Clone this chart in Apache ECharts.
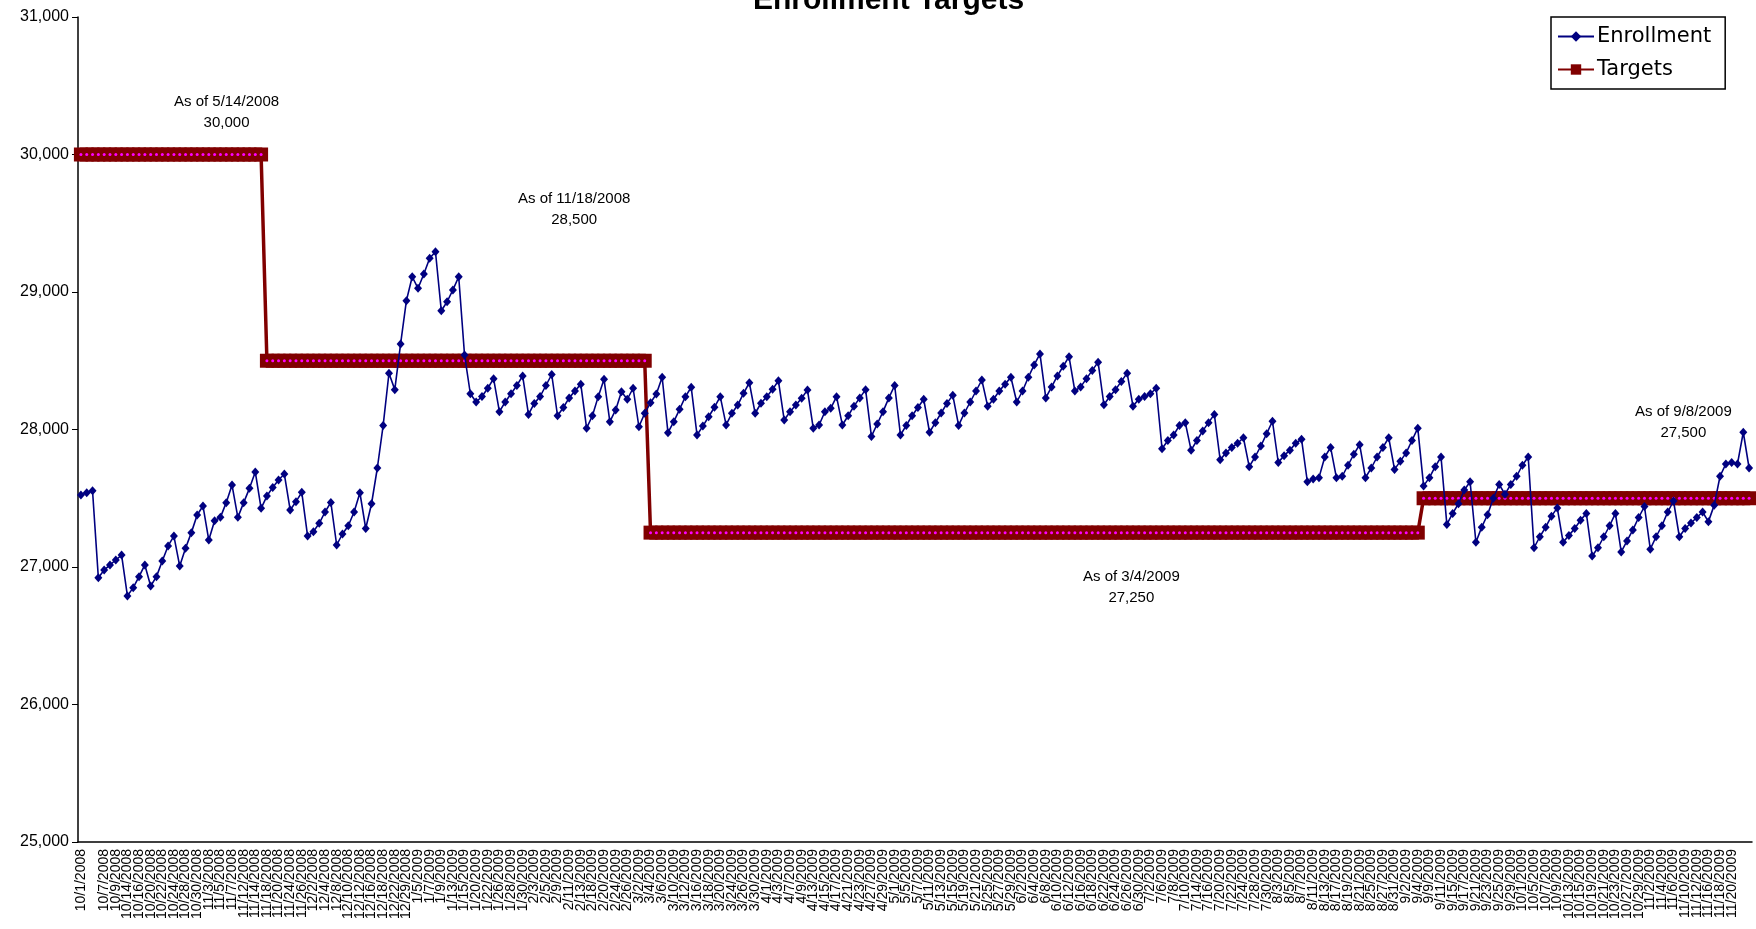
<!DOCTYPE html>
<html>
<head lang="en">
    <meta charset="UTF-8">
    <title>Enrollment Targets</title>
    <script type="text/javascript" src="https://cdn.jsdelivr.net/npm/echarts@6/dist/echarts.min.js"></script>
    <style>
        html, body { margin: 0; padding: 0; background: #fff; }
        #myLineChart { width: 1756px; height: 929px; }
    </style>
</head>
<body>
<div id="myLineChart"></div>
<script type="text/javascript">
    // business days shown on the category axis
    var dates = [
        '10/1/2008','10/2/2008','10/3/2008','10/6/2008','10/7/2008','10/8/2008','10/9/2008','10/10/2008','10/14/2008','10/15/2008',
        '10/16/2008','10/17/2008','10/20/2008','10/21/2008','10/22/2008','10/23/2008','10/24/2008','10/27/2008','10/28/2008','10/29/2008',
        '10/30/2008','10/31/2008','11/3/2008','11/4/2008','11/5/2008','11/6/2008','11/7/2008','11/10/2008','11/12/2008','11/13/2008',
        '11/14/2008','11/17/2008','11/18/2008','11/19/2008','11/20/2008','11/21/2008','11/24/2008','11/25/2008','11/26/2008','12/1/2008',
        '12/2/2008','12/3/2008','12/4/2008','12/5/2008','12/8/2008','12/9/2008','12/10/2008','12/11/2008','12/12/2008','12/15/2008',
        '12/16/2008','12/17/2008','12/18/2008','12/19/2008','12/22/2008','12/23/2008','12/29/2008','12/30/2008','1/5/2009','1/6/2009',
        '1/7/2009','1/8/2009','1/9/2009','1/12/2009','1/13/2009','1/14/2009','1/15/2009','1/16/2009','1/20/2009','1/21/2009',
        '1/22/2009','1/23/2009','1/26/2009','1/27/2009','1/28/2009','1/29/2009','1/30/2009','2/2/2009','2/3/2009','2/4/2009',
        '2/5/2009','2/6/2009','2/9/2009','2/10/2009','2/11/2009','2/12/2009','2/13/2009','2/17/2009','2/18/2009','2/19/2009',
        '2/20/2009','2/23/2009','2/24/2009','2/25/2009','2/26/2009','2/27/2009','3/2/2009','3/3/2009','3/4/2009','3/5/2009',
        '3/6/2009','3/9/2009','3/10/2009','3/11/2009','3/12/2009','3/13/2009','3/16/2009','3/17/2009','3/18/2009','3/19/2009',
        '3/20/2009','3/23/2009','3/24/2009','3/25/2009','3/26/2009','3/27/2009','3/30/2009','3/31/2009','4/1/2009','4/2/2009',
        '4/3/2009','4/6/2009','4/7/2009','4/8/2009','4/9/2009','4/10/2009','4/13/2009','4/14/2009','4/15/2009','4/16/2009',
        '4/17/2009','4/20/2009','4/21/2009','4/22/2009','4/23/2009','4/24/2009','4/27/2009','4/28/2009','4/29/2009','4/30/2009',
        '5/1/2009','5/4/2009','5/5/2009','5/6/2009','5/7/2009','5/8/2009','5/11/2009','5/12/2009','5/13/2009','5/14/2009',
        '5/15/2009','5/18/2009','5/19/2009','5/20/2009','5/21/2009','5/22/2009','5/25/2009','5/26/2009','5/27/2009','5/28/2009',
        '5/29/2009','6/1/2009','6/2/2009','6/3/2009','6/4/2009','6/5/2009','6/8/2009','6/9/2009','6/10/2009','6/11/2009',
        '6/12/2009','6/15/2009','6/16/2009','6/17/2009','6/18/2009','6/19/2009','6/22/2009','6/23/2009','6/24/2009','6/25/2009',
        '6/26/2009','6/29/2009','6/30/2009','7/1/2009','7/2/2009','7/3/2009','7/6/2009','7/7/2009','7/8/2009','7/9/2009',
        '7/10/2009','7/13/2009','7/14/2009','7/15/2009','7/16/2009','7/17/2009','7/20/2009','7/21/2009','7/22/2009','7/23/2009',
        '7/24/2009','7/27/2009','7/28/2009','7/29/2009','7/30/2009','7/31/2009','8/3/2009','8/4/2009','8/5/2009','8/6/2009',
        '8/7/2009','8/10/2009','8/11/2009','8/12/2009','8/13/2009','8/14/2009','8/17/2009','8/18/2009','8/19/2009','8/20/2009',
        '8/21/2009','8/24/2009','8/25/2009','8/26/2009','8/27/2009','8/28/2009','8/31/2009','9/1/2009','9/2/2009','9/3/2009',
        '9/4/2009','9/8/2009','9/9/2009','9/10/2009','9/11/2009','9/14/2009','9/15/2009','9/16/2009','9/17/2009','9/18/2009',
        '9/21/2009','9/22/2009','9/23/2009','9/24/2009','9/25/2009','9/28/2009','9/29/2009','9/30/2009','10/1/2009','10/2/2009',
        '10/5/2009','10/6/2009','10/7/2009','10/8/2009','10/9/2009','10/12/2009','10/13/2009','10/14/2009','10/15/2009','10/16/2009',
        '10/19/2009','10/20/2009','10/21/2009','10/22/2009','10/23/2009','10/26/2009','10/27/2009','10/28/2009','10/29/2009','10/30/2009',
        '11/2/2009','11/3/2009','11/4/2009','11/5/2009','11/6/2009','11/9/2009','11/10/2009','11/11/2009','11/12/2009','11/13/2009',
        '11/16/2009','11/17/2009','11/18/2009','11/19/2009','11/20/2009','11/23/2009','11/24/2009','11/25/2009'
    ];

    // daily enrollment
    var enrollment = [
        27524,27540,27555,26922,26978,27015,27051,27087,26790,26850,
        26930,27015,26862,26930,27044,27153,27225,27007,27136,27250,
        27378,27444,27196,27337,27361,27468,27596,27361,27468,27572,
        27691,27427,27516,27579,27633,27676,27415,27475,27543,27225,
        27257,27318,27400,27470,27160,27240,27300,27400,27540,27280,
        27460,27720,28030,28409,28290,28622,28937,29111,29027,29131,
        29245,29293,28864,28929,29015,29111,28542,28260,28200,28240,
        28300,28370,28130,28200,28260,28320,28390,28110,28190,28240,
        28320,28400,28100,28160,28230,28280,28330,28010,28100,28239,
        28365,28057,28142,28275,28220,28300,28020,28118,28195,28258,
        28380,27977,28057,28147,28239,28307,27960,28025,28093,28162,
        28239,28033,28118,28178,28263,28340,28118,28191,28239,28292,
        28355,28069,28129,28178,28227,28288,28009,28033,28129,28154,
        28239,28033,28100,28170,28230,28290,27950,28040,28130,28230,
        28320,27960,28030,28100,28160,28220,27980,28050,28120,28190,
        28250,28030,28120,28200,28280,28360,28170,28220,28280,28330,
        28380,28200,28280,28380,28470,28550,28230,28310,28390,28460,
        28530,28280,28310,28370,28430,28490,28180,28240,28290,28350,
        28410,28170,28220,28240,28260,28300,27860,27920,27960,28030,
        28050,27850,27920,27990,28050,28110,27780,27830,27870,27900,
        27940,27730,27800,27880,27970,28060,27760,27810,27850,27900,
        27930,27620,27640,27650,27800,27870,27650,27660,27740,27820,
        27890,27650,27720,27800,27870,27940,27710,27770,27830,27920,
        28010,27590,27650,27730,27800,27310,27390,27460,27560,27620,
        27180,27290,27380,27500,27600,27530,27600,27660,27740,27800,
        27140,27220,27290,27370,27430,27180,27230,27280,27340,27390,
        27080,27140,27220,27300,27390,27110,27190,27270,27360,27440,
        27130,27220,27300,27400,27480,27220,27280,27320,27360,27400,
        27330,27450,27660,27750,27760,27750,27980,27720
    ];

    // enrollment target in force on each day
    var targets = [
        30000,30000,30000,30000,30000,30000,30000,30000,30000,30000,
        30000,30000,30000,30000,30000,30000,30000,30000,30000,30000,
        30000,30000,30000,30000,30000,30000,30000,30000,30000,30000,
        30000,30000,28500,28500,28500,28500,28500,28500,28500,28500,
        28500,28500,28500,28500,28500,28500,28500,28500,28500,28500,
        28500,28500,28500,28500,28500,28500,28500,28500,28500,28500,
        28500,28500,28500,28500,28500,28500,28500,28500,28500,28500,
        28500,28500,28500,28500,28500,28500,28500,28500,28500,28500,
        28500,28500,28500,28500,28500,28500,28500,28500,28500,28500,
        28500,28500,28500,28500,28500,28500,28500,28500,27250,27250,
        27250,27250,27250,27250,27250,27250,27250,27250,27250,27250,
        27250,27250,27250,27250,27250,27250,27250,27250,27250,27250,
        27250,27250,27250,27250,27250,27250,27250,27250,27250,27250,
        27250,27250,27250,27250,27250,27250,27250,27250,27250,27250,
        27250,27250,27250,27250,27250,27250,27250,27250,27250,27250,
        27250,27250,27250,27250,27250,27250,27250,27250,27250,27250,
        27250,27250,27250,27250,27250,27250,27250,27250,27250,27250,
        27250,27250,27250,27250,27250,27250,27250,27250,27250,27250,
        27250,27250,27250,27250,27250,27250,27250,27250,27250,27250,
        27250,27250,27250,27250,27250,27250,27250,27250,27250,27250,
        27250,27250,27250,27250,27250,27250,27250,27250,27250,27250,
        27250,27250,27250,27250,27250,27250,27250,27250,27250,27250,
        27250,27250,27250,27250,27250,27250,27250,27250,27250,27250,
        27250,27500,27500,27500,27500,27500,27500,27500,27500,27500,
        27500,27500,27500,27500,27500,27500,27500,27500,27500,27500,
        27500,27500,27500,27500,27500,27500,27500,27500,27500,27500,
        27500,27500,27500,27500,27500,27500,27500,27500,27500,27500,
        27500,27500,27500,27500,27500,27500,27500,27500,27500,27500,
        27500,27500,27500,27500,27500,27500,27500,27500
    ];

    var yTicks = [25000, 26000, 27000, 28000, 29000, 30000, 31000];

    // text boxes placed on the chart
    var notes = [
        {text: 'As of 5/14/2008\n30,000', x: 174, y: 91},
        {text: 'As of 11/18/2008\n28,500', x: 518, y: 188},
        {text: 'As of 3/4/2009\n27,250', x: 1083, y: 566},
        {text: 'As of 9/8/2009\n27,500', x: 1635, y: 401}
    ];

    var myChart = echarts.init(document.getElementById('myLineChart'));

    myChart.setOption({
        backgroundColor: '#ffffff',
        animation: false,
        title: {
            text: 'Enrollment Targets',
            left: 748,
            top: -19,
            textStyle: {fontFamily: 'Liberation Sans', fontSize: 30, fontWeight: 'bold', color: '#000'}
        },
        legend: {
            orient: 'vertical',
            left: 1551,
            top: 17,
            data: ['Enrollment', 'Targets'],
            padding: [9, 14, 9, 6],
            itemGap: 12,
            itemWidth: 36,
            itemHeight: 13,
            borderColor: '#000',
            borderWidth: 1.5,
            borderRadius: 0,
            backgroundColor: '#fff',
            textStyle: {fontFamily: 'DejaVu Sans', fontSize: 21, color: '#000', padding: [0, 0, 0, -2]}
        },
        grid: {left: 78, right: 4, top: 17, bottom: 87},
        xAxis: {
            type: 'category',
            data: dates,
            boundaryGap: true,
            axisLine: {lineStyle: {color: '#000', width: 1.5}},
            axisTick: {interval: 0, length: 5, lineStyle: {color: '#000', width: 1}},
            axisLabel: {
                // every other business day gets a label
                interval: function (index) { return index % 2 === 0; },
                rotate: 90, fontSize: 14, lineHeight: 10, color: '#000', fontFamily: 'Liberation Sans', margin: 7,
                showMinLabel: true, showMaxLabel: false
            },
            splitLine: {show: false}
        },
        yAxis: {
            type: 'value',
            min: yTicks[0],
            max: yTicks[yTicks.length - 1],
            interval: 1000,
            axisLine: {show: true, lineStyle: {color: '#000', width: 1.5}},
            axisTick: {show: true, length: 6, lineStyle: {color: '#000'}},
            axisLabel: {
                fontSize: 16, color: '#000', fontFamily: 'Liberation Sans', margin: 9,
                formatter: function (v) { return v.toLocaleString('en-US'); }
            },
            splitLine: {show: false}
        },
        graphic: notes.map(function (n) {
            return {
                type: 'text', left: n.x, top: n.y,
                style: {
                    text: n.text, x: 0, y: 0, textAlign: 'center',
                    fontFamily: 'Liberation Sans', fontSize: 15, lineHeight: 21, fill: '#000'
                },
                z: 100
            };
        }),
        series: [
            {
                name: 'Targets',
                type: 'line',
                data: targets,
                z: 2,
                symbol: 'rect',
                symbolSize: 14,
                showAllSymbol: true,
                lineStyle: {color: '#800000', width: 3.5},
                itemStyle: {color: '#800000'}
            },
            {
                name: 'Targets dots',
                type: 'line',
                data: targets,
                z: 3,
                silent: true,
                symbol: 'circle',
                symbolSize: 3,
                showAllSymbol: true,
                lineStyle: {width: 0, opacity: 0},
                itemStyle: {color: '#ff00ff'}
            },
            {
                name: 'Enrollment',
                type: 'line',
                data: enrollment,
                z: 4,
                symbol: 'diamond',
                symbolSize: [8, 9],
                showAllSymbol: true,
                lineStyle: {color: '#000080', width: 1.6},
                itemStyle: {color: '#000080'}
            }
        ]
    });
</script>
</body>
</html>
